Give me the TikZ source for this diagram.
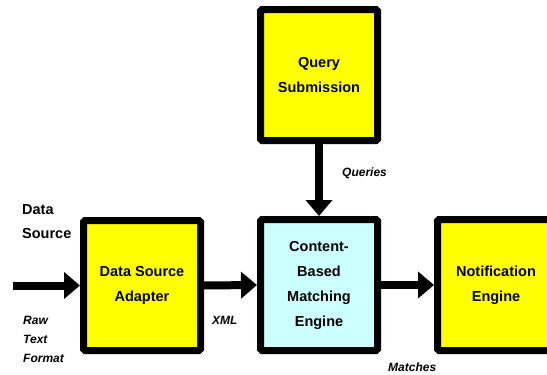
\documentclass[tikz,border=0pt]{standalone}
\usepackage{fontspec}
\setmainfont{Liberation Sans}
\usetikzlibrary{arrows.meta}
\definecolor{boxyellow}{HTML}{FFFF00}
\definecolor{boxcyan}{HTML}{CCFFFF}
\tikzset{
  block/.style={draw=black, line width=7pt, rounded corners=1.5pt, minimum width=117pt, minimum height=131pt,
    align=center, font=\fontsize{14.5}{25}\selectfont\bfseries, inner sep=0pt},
  yblock/.style={block, fill=boxyellow},
  cblock/.style={block, fill=boxcyan},
  flow/.style={line width=8pt, -{Triangle[length=16pt,width=26pt]}},
  flowlabel/.style={font=\fontsize{12}{19}\selectfont\bfseries\itshape, inner sep=0pt},
  sidelabel/.style={font=\fontsize{14.5}{24}\selectfont\bfseries, inner sep=0pt, align=left}
}
\begin{document}
\begin{tikzpicture}[x=1pt,y=-1pt]
\useasboundingbox (0,0) rectangle (547,375);
\clip (0,0) rectangle (547,375);
\node[yblock] (query) at (319,75) {Query\\Submission};
\node[yblock, minimum height=130pt] (adapter) at (142,285.5) {Data Source\\Adapter};
\node[cblock] (content) at (319,285) {Content-\\Based\\Matching\\Engine};
\node[yblock] (notify) at (496,285) {Notification\\Engine};
\coordinate (src) at (13,285.5);
\draw[flow] (src) -- (adapter.west);
\draw[flow] (adapter.east) -- (content.west);
\draw[flow] (content.east) -- (notify.west);
\draw[flow] (query.south) -- (content.north);
\node[sidelabel, anchor=west] (dslabel) at (22,222) {Data\\Source};
\node[flowlabel, anchor=west, align=left] (rawlabel) at (23,339) {Raw\\Text\\Format};
\node[flowlabel, anchor=west] (xmllabel) at (212,320) {XML};
\node[flowlabel, anchor=west] (qlabel) at (342,173) {Queries};
\node[flowlabel, anchor=west] (mlabel) at (388,367) {Matches};
\end{tikzpicture}
\end{document}
